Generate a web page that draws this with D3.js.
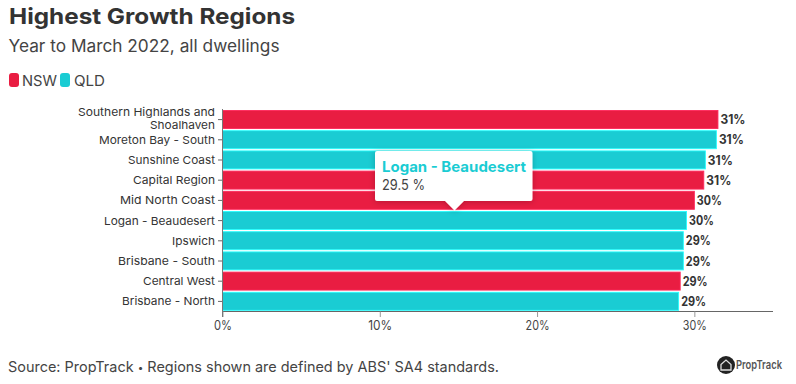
<!DOCTYPE html>
<html><head><meta charset="utf-8">
<script src="https://cdn.jsdelivr.net/npm/d3@7"></script>
<style>
html,body{margin:0;padding:0;background:#fff}
svg{display:block}
text{font-family:"Inter","Noto Sans",sans-serif}
</style></head><body>
<svg id="c" width="796" height="384"></svg>
<script>
const categories=["Southern Highlands and|Shoalhaven","Moreton Bay - South","Sunshine Coast","Capital Region","Mid North Coast","Logan - Beaudesert","Ipswich","Brisbane - South","Central West","Brisbane - North"];
const states=["NSW","QLD","QLD","NSW","NSW","QLD","QLD","QLD","NSW","QLD"];
const values=[31.5,31.4,30.7,30.6,30.0,29.5,29.3,29.3,29.1,29.0];
const barLabels=["31%","31%","31%","31%","30%","30%","29%","29%","29%","29%"];
const xTicks=[0,10,20,30];
const legendItems=["NSW","QLD"];
const colors={NSW:"#e91d42",QLD:"#1accd3"};
const title="Highest Growth Regions";
const subtitle="Year to March 2022, all dwellings";
const sourceParts=["Source: PropTrack ","•"," Regions shown are defined by ABS' SA4 standards."];
const tipName="Logan - Beaudesert";
const tipValue="29.5 %";

const svg=d3.select("#c");
const x=d3.scaleLinear().domain([0,35]).range([222.5,773]);
const y=d3.scaleBand().domain(d3.range(categories.length)).range([109.5,311.5]).padding(0);

function fit(sel,w){return sel.attr("textLength",w).attr("lengthAdjust","spacingAndGlyphs");}

fit(svg.append("text").attr("x",9).attr("y",24).attr("font-size",22).attr("font-weight",700).attr("fill","#333").text(title),286);
fit(svg.append("text").attr("x",8.5).attr("y",52).attr("font-size",17).attr("fill","#444").text(subtitle),271);

const legendX=[9,60],legendTX=[22,74],legendW=[35,31];
legendItems.forEach((d,i)=>{
  svg.append("rect").attr("x",legendX[i]).attr("y",73).attr("width",10).attr("height",14).attr("rx",3).attr("fill",colors[d]);
  fit(svg.append("text").attr("x",legendTX[i]).attr("y",85.5).attr("font-size",14.5).attr("fill","#444").text(d),legendW[i]);
});

svg.append("g").selectAll("rect").data(values).join("rect")
  .attr("x",x(0)).attr("y",(d,i)=>y(i)+1).attr("width",d=>x(d)-x(0)).attr("height",18)
  .attr("fill",(d,i)=>colors[states[i]]).attr("stroke",(d,i)=>d3.color(colors[states[i]]).brighter(0.9)).attr("stroke-width",0.9);

const ly=svg.append("g");
const labelWidths={"Southern Highlands and":137,"Shoalhaven":65,"Moreton Bay - South":116,"Sunshine Coast":87,"Capital Region":82,"Mid North Coast":95,"Logan - Beaudesert":111,"Ipswich":43,"Brisbane - South":97,"Central West":72,"Brisbane - North":93};
categories.forEach((c,i)=>{
  const cy=y(i)+y.bandwidth()/2;
  ly.append("line").attr("x1",218).attr("x2",222.5).attr("y1",cy).attr("y2",cy).attr("stroke","#666");
  const parts=c.split("|");
  parts.forEach((p,j)=>{
    const t=ly.append("text").attr("x",215).attr("y",cy+4+(j-(parts.length-1)/2)*13-(parts.length>1?1:0)).attr("text-anchor","end")
      .attr("font-size",11).attr("fill","#333").text(p);
    fit(t,labelWidths[p]);
  });
});

svg.append("g").selectAll("text").data(values).join("text")
  .attr("x",d=>x(d)+2.5).attr("y",(d,i)=>y(i)+y.bandwidth()/2+4.5).attr("font-size",12.5).attr("font-weight",700).attr("fill","#333")
  .attr("textLength",25).attr("lengthAdjust","spacingAndGlyphs").text((d,i)=>barLabels[i]);

const ax=svg.append("g").attr("transform","translate(0,311.5)")
  .call(d3.axisBottom(x).tickValues(xTicks).tickSize(5.5).tickFormat(d=>d+"%"));
ax.select(".domain").attr("stroke","#666").attr("stroke-width",1).attr("d","M222.5,0H773");
ax.selectAll(".tick line").attr("stroke","#999");
ax.selectAll(".tick text").attr("font-family","Inter").attr("font-size",13).attr("fill","#444").attr("y",8).attr("dy","0.8em")
  .attr("textLength",d=>d===0?18:24).attr("lengthAdjust","spacingAndGlyphs");
svg.append("line").attr("x1",x(0)).attr("x2",x(0)).attr("y1",109).attr("y2",317).attr("stroke","#777");

// tooltip
const tip=svg.append("g");
const f=svg.append("defs").append("filter").attr("id","s").attr("x","-20%").attr("y","-30%").attr("width","140%").attr("height","170%");
f.append("feDropShadow").attr("dx",0).attr("dy",1).attr("stdDeviation",3).attr("flood-color","#000").attr("flood-opacity",0.22);
tip.append("path").attr("d","M377,151H530.500a2,2 0 0 1 2,2V199a2,2 0 0 1 -2,2H464L454.500,210.500L445,201H377a2,2 0 0 1 -2,-2V153a2,2 0 0 1 2,-2Z")
  .attr("fill","#fff").attr("filter","url(#s)");
fit(tip.append("text").attr("x",382).attr("y",172).attr("font-size",14.5).attr("font-weight",700).attr("fill",colors.QLD).text(tipName),144);
fit(tip.append("text").attr("x",382).attr("y",190).attr("font-size",14).attr("fill","#444").text(tipValue),43);

const src=svg.append("text").attr("x",8).attr("y",372).attr("font-size",14.5).attr("fill","#444");
src.append("tspan").text(sourceParts[0]);
src.append("tspan").attr("font-size",10).attr("dy",-1.5).text(sourceParts[1]);
src.append("tspan").attr("dy",1.5).text(sourceParts[2]);
fit(src,491);

// logo
const logo=svg.append("g");
logo.append("circle").attr("cx",726).attr("cy",365).attr("r",9).attr("fill","#222");
logo.append("path").attr("d","M721,364.500L726,360L731,364.500V370H721Z").attr("fill","none").attr("stroke","#ddd").attr("stroke-width",1.3);
fit(logo.append("text").attr("x",736).attr("y",369).attr("font-size",12).attr("font-weight",600).attr("fill","#555").text("PropTrack"),46);
</script></body></html>
